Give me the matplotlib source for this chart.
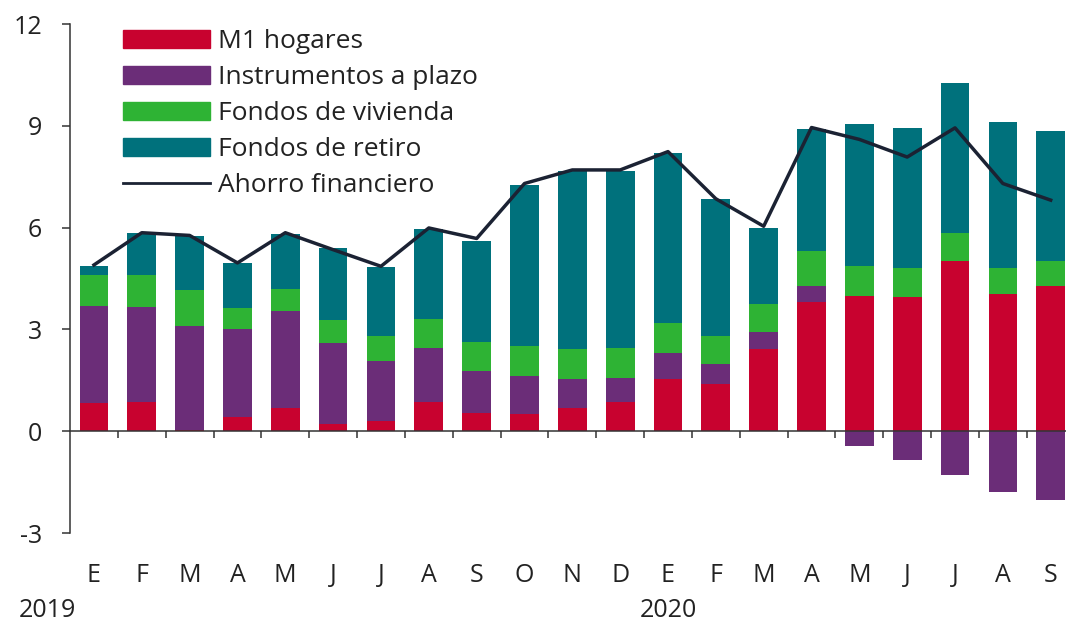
import numpy as np
import matplotlib.pyplot as plt
from matplotlib.patches import Patch
from matplotlib.lines import Line2D

plt.rcParams['font.family'] = ['Open Sans', 'DejaVu Sans']

meses = ["E", "F", "M", "A", "M", "J", "J", "A", "S", "O", "N", "D",
         "E", "F", "M", "A", "M", "J", "J", "A", "S"]
anios = ["2019", "2020"]

m1_hogares = [0.82, 0.85, 0.05, 0.43, 0.67, 0.20, 0.30, 0.85, 0.53, 0.50, 0.69,
              0.87, 1.53, 1.40, 2.43, 3.81, 3.99, 3.96, 5.01, 4.04, 4.28]
instrumentos = [2.86, 2.81, 3.06, 2.58, 2.86, 2.39, 1.77, 1.61, 1.24, 1.13, 0.84,
                0.71, 0.78, 0.57, 0.49, 0.47, -0.43, -0.84, -1.30, -1.79, -2.04]
vivienda = [0.91, 0.95, 1.04, 0.61, 0.67, 0.68, 0.75, 0.84, 0.87, 0.89, 0.88,
            0.88, 0.88, 0.83, 0.82, 1.02, 0.89, 0.86, 0.83, 0.76, 0.73]
retiro = [0.27, 1.23, 1.59, 1.34, 1.62, 2.13, 2.01, 2.66, 2.98, 4.73, 5.25,
          5.20, 5.02, 4.03, 2.24, 3.61, 4.18, 4.11, 4.43, 4.32, 3.85]
ahorro = [4.90, 5.85, 5.77, 4.96, 5.85, 5.35, 4.86, 5.99, 5.68, 7.30, 7.70,
          7.70, 8.24, 6.85, 6.04, 8.95, 8.60, 8.08, 8.94, 7.30, 6.81]

c_rojo = "#C8022F"
c_morado = "#6B2D78"
c_verde = "#2EB334"
c_teal = "#00717C"
c_linea = "#1B2233"

x = np.arange(len(meses))
w = 0.6

fig = plt.figure(figsize=(10.66, 6.24), dpi=100)
ax = fig.add_axes([0.0657, 0.1458, 0.9343, 0.8157])

series = [m1_hogares, instrumentos, vivienda, retiro]
colores = [c_rojo, c_morado, c_verde, c_teal]
pos_base = np.zeros(len(x))
neg_base = np.zeros(len(x))
for vals, col in zip(series, colores):
    v = np.array(vals)
    base = np.where(v >= 0, pos_base, neg_base)
    ax.bar(x, v, w, bottom=base, color=col, linewidth=0, zorder=2)
    pos_base = pos_base + np.where(v >= 0, v, 0)
    neg_base = neg_base + np.where(v < 0, v, 0)

ax.plot(x, ahorro, color=c_linea, lw=2.5, zorder=3)

ax.set_xlim(-0.5, 20.32)
ax.set_ylim(-3, 12)
ax.set_yticks([-3, 0, 3, 6, 9, 12])
ax.set_yticklabels(["-3", "0", "3", "6", "9", "12"])

for s in ["top", "right"]:
    ax.spines[s].set_visible(False)
ax.spines["bottom"].set_position(("data", 0))
ax.spines["left"].set_color("#333333")
ax.spines["bottom"].set_color("#333333")
ax.spines["left"].set_linewidth(1.1)
ax.spines["bottom"].set_linewidth(1.1)

ax.set_xticks(x)
ax.set_xticklabels([])
ax.tick_params(axis="x", which="major", length=0)
ax.set_xticks(np.arange(0.5, 20, 1), minor=True)
ax.tick_params(axis="x", which="minor", length=5, width=1.1, color="#333333",
               direction="out")
ax.tick_params(axis="y", length=6, width=1.1, color="#333333", pad=14,
               labelsize=18, labelcolor="#222222")

for xi, m in zip(x, meses):
    ax.text(xi, -4.25, m, ha="center", va="center", fontsize=18,
            color="#222222", clip_on=False)
ax.text(-0.98, -5.28, anios[0], ha="center", va="center", fontsize=18,
        color="#222222", clip_on=False)
ax.text(12, -5.28, anios[1], ha="center", va="center", fontsize=18,
        color="#222222", clip_on=False)

handles = [Patch(color=c_rojo), Patch(color=c_morado), Patch(color=c_verde),
           Patch(color=c_teal), Line2D([], [], color=c_linea, lw=2)]
labels = ["M1 hogares", "Instrumentos a plazo", "Fondos de vivienda",
          "Fondos de retiro", "Ahorro financiero"]
ax.legend(handles, labels, loc="upper left", bbox_to_anchor=(0.053, 0.99),
          frameon=False, fontsize=19, handlelength=3.3, handleheight=0.66,
          handletextpad=0.3, labelspacing=0.42, borderpad=0, borderaxespad=0,
          labelcolor="#222222")

fig.savefig("out.png", dpi=100)
